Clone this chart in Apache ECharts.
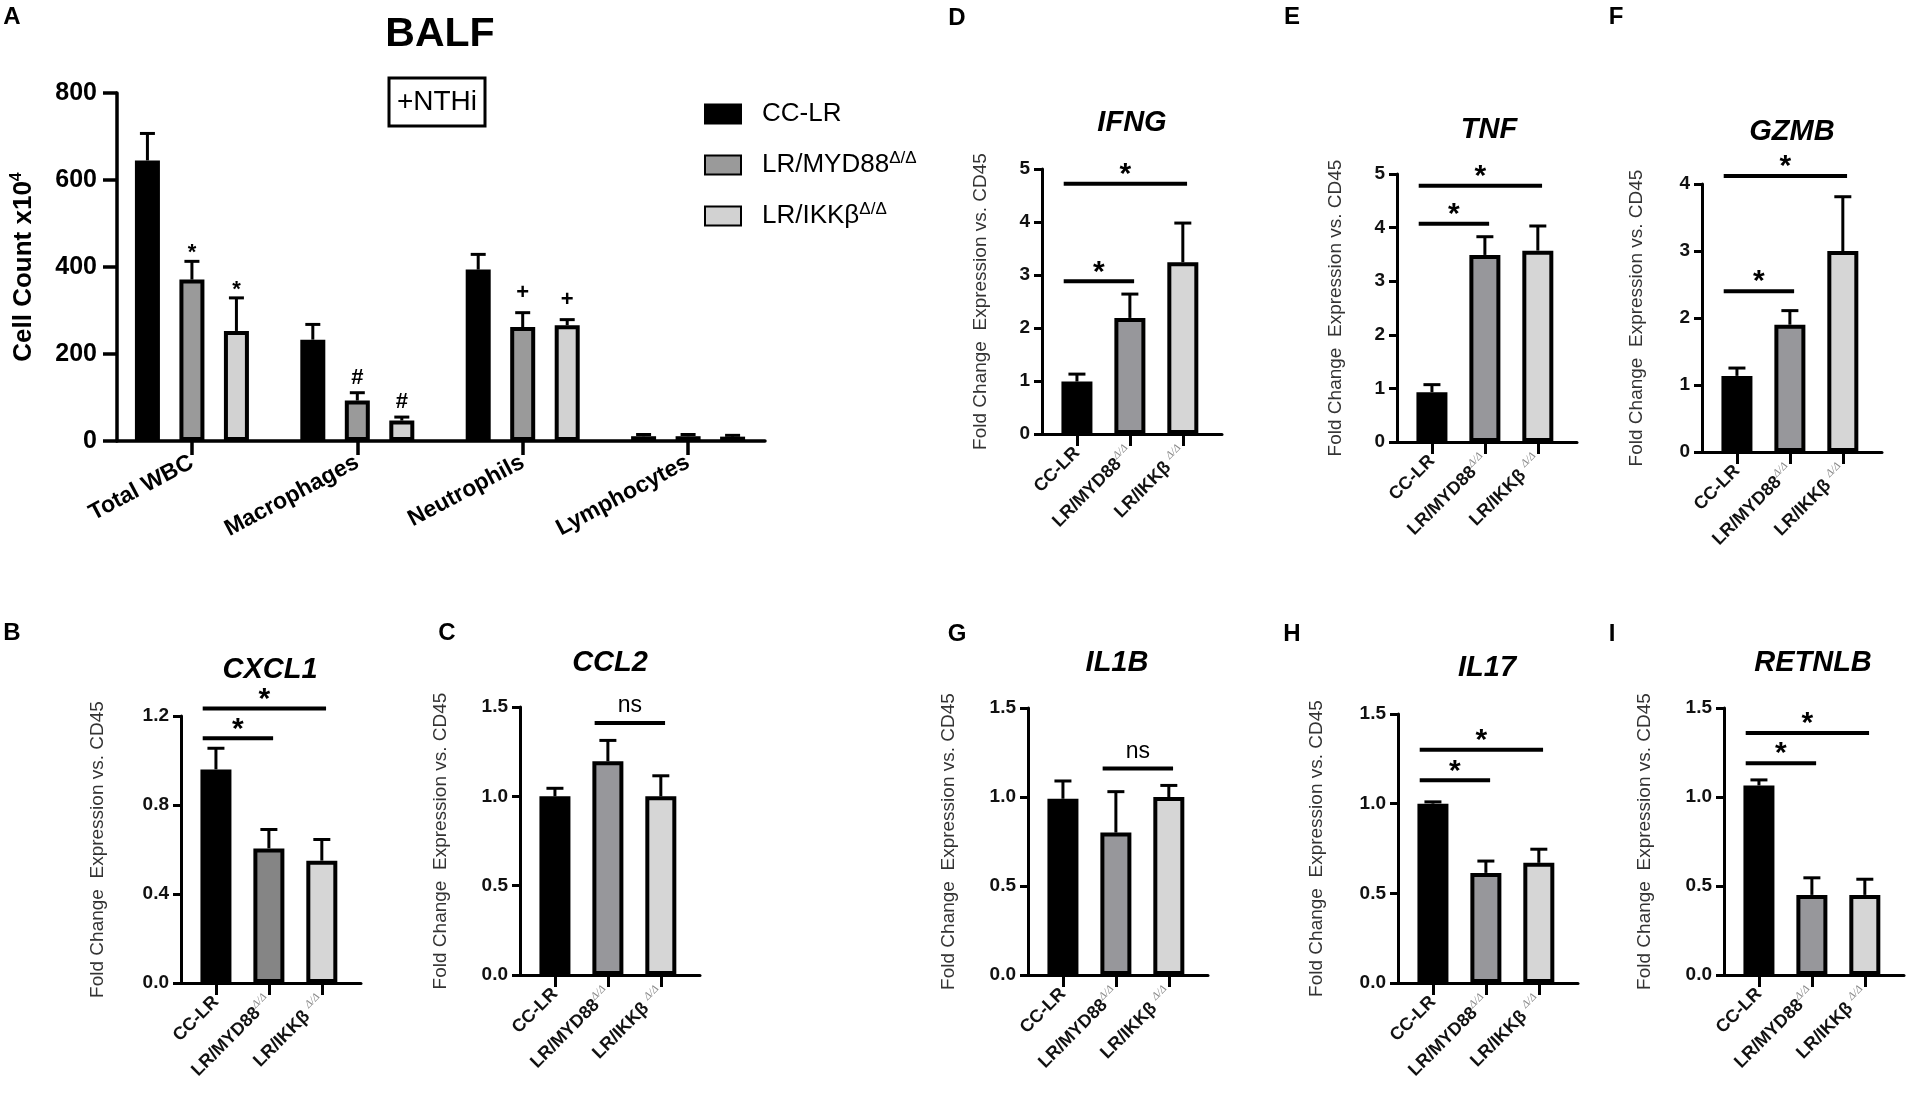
<!DOCTYPE html>
<html><head><meta charset="utf-8">
<script src="https://cdn.jsdelivr.net/npm/echarts@6/dist/echarts.min.js"></script>
<style>html,body{margin:0;padding:0;background:#fff}#c{width:1914px;height:1097px}</style>
</head><body><div id="c"></div>
<script>
// ================= DATA =================
const genotypes = ['CC-LR', 'LR/MYD88', 'LR/IKKβ'];
const genotypeSup = ['', 'Δ/Δ', 'Δ/Δ'];
const cellTypes = ['Total WBC', 'Macrophages', 'Neutrophils', 'Lymphocytes'];
const cellTicks = ['0', '200', '400', '600', '800'];

const balfCcLr = [645, 233, 394, 11];
const balfCcLrErr = [62, 35, 35, 4];
const balfMyd88 = [371, 93, 262, 11];
const balfMyd88Err = [42, 18, 33, 4];
const balfIkkb = [253, 47, 266, 10];
const balfIkkbErr = [76, 8, 13, 3];
const balfMarksMyd88 = ['*', '#', '+', ''];
const balfMarksIkkb = ['*', '#', '+', ''];

const ticks12 = ['0.0', '0.4', '0.8', '1.2'];
const ticks15 = ['0.0', '0.5', '1.0', '1.5'];
const ticks5 = ['0', '1', '2', '3', '4', '5'];
const ticks4 = ['0', '1', '2', '3', '4'];

const cxcl1Mean = [0.96, 0.605, 0.55];
const cxcl1Err = [0.095, 0.085, 0.095];
const cxcl1Sig = [[0, 1, 1.10, '*'], [0, 2, 1.234, '*']];

const ccl2Mean = [1.0, 1.196, 1.0];
const ccl2Err = [0.045, 0.117, 0.115];
const ccl2Sig = [[1, 2, 1.41, 'ns']];

const ifngMean = [0.99, 2.19, 3.24];
const ifngErr = [0.14, 0.45, 0.74];
const ifngSig = [[0, 1, 2.88, '*'], [0, 2, 4.72, '*']];

const tnfMean = [0.93, 3.49, 3.57];
const tnfErr = [0.14, 0.34, 0.46];
const tnfSig = [[0, 1, 4.07, '*'], [0, 2, 4.78, '*']];

const gzmbMean = [1.136, 1.90, 3.0];
const gzmbErr = [0.117, 0.21, 0.81];
const gzmbSig = [[0, 1, 2.40, '*'], [0, 2, 4.12, '*']];

const il1bMean = [0.99, 0.80, 1.0];
const il1bErr = [0.10, 0.23, 0.065];
const il1bSig = [[1, 2, 1.16, 'ns']];

const il17Mean = [1.0, 0.614, 0.67];
const il17Err = [0.01, 0.066, 0.076];
const il17Sig = [[0, 1, 1.13, '*'], [0, 2, 1.30, '*']];

const retnlbMean = [1.065, 0.45, 0.45];
const retnlbErr = [0.031, 0.096, 0.088];
const retnlbSig = [[0, 1, 1.19, '*'], [0, 2, 1.36, '*']];

// ================= LAYOUT / STYLE =================
const FONT = 'Liberation Sans, Arial, Helvetica, sans-serif';
const FILL_BLACK = '#000000', FILL_GREY = '#97979b', FILL_LIGHT = '#d6d6d6';

const genePanels = [
  {letter: 'B', gene: 'CXCL1', mean: cxcl1Mean, err: cxcl1Err, sig: cxcl1Sig, ticks: ticks12,
   left: 181, top: 716, h: 267, tx: 270, ty: 670, lx: 12, ly: 633, gap: 74, grey: '#858585'},
  {letter: 'C', gene: 'CCL2', mean: ccl2Mean, err: ccl2Err, sig: ccl2Sig, ticks: ticks15,
   left: 520, top: 707, h: 268, tx: 610, ty: 663, lx: 447, ly: 633, gap: 70},
  {letter: 'D', gene: 'IFNG', mean: ifngMean, err: ifngErr, sig: ifngSig, ticks: ticks5,
   left: 1042, top: 169, h: 265, tx: 1132, ty: 123, lx: 957, ly: 18, gap: 52},
  {letter: 'E', gene: 'TNF', mean: tnfMean, err: tnfErr, sig: tnfSig, ticks: ticks5,
   left: 1397, top: 174, h: 268, tx: 1489, ty: 130, lx: 1292, ly: 17, gap: 52},
  {letter: 'F', gene: 'GZMB', mean: gzmbMean, err: gzmbErr, sig: gzmbSig, ticks: ticks4,
   left: 1702, top: 184, h: 268, tx: 1792, ty: 132, lx: 1616, ly: 17, gap: 56},
  {letter: 'G', gene: 'IL1B', mean: il1bMean, err: il1bErr, sig: il1bSig, ticks: ticks15,
   left: 1028, top: 708, h: 267, tx: 1117, ty: 663, lx: 957, ly: 634, gap: 70},
  {letter: 'H', gene: 'IL17', mean: il17Mean, err: il17Err, sig: il17Sig, ticks: ticks15,
   left: 1398, top: 714, h: 269, tx: 1487, ty: 668, lx: 1292, ly: 634, gap: 72},
  {letter: 'I', gene: 'RETNLB', mean: retnlbMean, err: retnlbErr, sig: retnlbSig, ticks: ticks15,
   left: 1724, top: 708, h: 267, tx: 1813, ty: 663, lx: 1612, ly: 634, gap: 70}
];

const grids = [], xAxes = [], yAxes = [], series = [], graphics = [];

function errRender(offsetPx, capHalf, lw, marks, markFs) {
  return function (params, api) {
    const x = api.value(0), m = api.value(1), e = api.value(2);
    const a = api.coord([x, m]), b = api.coord([x, m + e]);
    const cx = a[0] + offsetPx;
    const children = [
      {type: 'line', shape: {x1: cx, y1: a[1], x2: cx, y2: b[1]}, style: {stroke: '#000', lineWidth: lw}},
      {type: 'line', shape: {x1: cx - capHalf, y1: b[1], x2: cx + capHalf, y2: b[1]}, style: {stroke: '#000', lineWidth: lw}}
    ];
    if (marks && marks[params.dataIndex]) {
      const mk = marks[params.dataIndex];
      const dy = mk === '*' ? 8 : (mk === '#' ? 15 : 20);
      children.push({type: 'text', x: cx, y: b[1] - dy,
        style: {text: mk, fontSize: markFs, fontWeight: 'bold', fontFamily: FONT, fill: '#000', align: 'center', verticalAlign: 'middle'}});
    }
    return {type: 'group', children: children};
  };
}

function sigRender(sig) {
  return function (params, api) {
    const s = sig[params.dataIndex];
    const p1 = api.coord([s[0] - 0.25, s[2]]), p2 = api.coord([s[1] + 0.08, s[2]]);
    const mid = (p1[0] + p2[0]) / 2;
    const star = s[3] === '*';
    return {type: 'group', children: [
      {type: 'line', shape: {x1: p1[0], y1: p1[1], x2: p2[0], y2: p2[1]}, style: {stroke: '#000', lineWidth: 4}},
      {type: 'text', x: mid, y: p1[1] - (star ? 9 : 17),
        style: {text: s[3], fontSize: star ? 30 : 23, fontWeight: star ? 'bold' : 'normal', fontFamily: FONT,
                fill: '#000', align: 'center', verticalAlign: 'middle'}}
    ]};
  };
}

// ---------- Panel A ----------
grids.push({left: 117, top: 93, width: 648, height: 348, containLabel: false, outerBoundsMode: 'none'});
xAxes.push({
  gridIndex: 0, type: 'value', min: -0.453, max: 3.465,
  axisLine: {show: true, onZero: false, lineStyle: {color: '#000', width: 3.5}},
  axisTick: {show: true, customValues: [0, 1, 2, 3], length: 14, lineStyle: {color: '#000', width: 3.5}},
  axisLabel: {customValues: [0, 1, 2, 3], rotate: 28, margin: 20, fontSize: 23, fontWeight: 'bold',
              color: '#000', fontFamily: FONT, formatter: v => cellTypes[Math.round(v)]},
  splitLine: {show: false}
});
yAxes.push({
  gridIndex: 0, type: 'value', min: 0, max: parseFloat(cellTicks[cellTicks.length - 1]),
  interval: parseFloat(cellTicks[1]),
  axisLine: {show: true, onZero: false, lineStyle: {color: '#000', width: 3.5}},
  axisTick: {show: true, length: 14, lineStyle: {color: '#000', width: 3.5}},
  axisLabel: {fontSize: 25, fontWeight: 'bold', color: '#000', fontFamily: FONT, margin: 20,
              formatter: v => cellTicks[Math.round(v / parseFloat(cellTicks[1]))]},
  splitLine: {show: false},
  name: '{a|Cell Count x10}{s|4}', nameLocation: 'middle', nameGap: 78,
  nameTextStyle: {rich: {
    a: {fontSize: 26, fontWeight: 'bold', color: '#000', fontFamily: FONT, lineHeight: 30},
    s: {fontSize: 16, fontWeight: 'bold', color: '#000', fontFamily: FONT, lineHeight: 16, verticalAlign: 'top'}
  }}
});
const balfNames = ['CC-LR', 'LR/MYD88Δ/Δ', 'LR/IKKβΔ/Δ'];
const balfVals = [balfCcLr, balfMyd88, balfIkkb];
const balfErrs = [balfCcLrErr, balfMyd88Err, balfIkkbErr];
const balfMarks = [null, balfMarksMyd88, balfMarksIkkb];
const balfFills = [FILL_BLACK, '#9a9a9a', '#d2d2d2'];
balfVals.forEach((vals, k) => {
  series.push({type: 'bar', name: balfNames[k], xAxisIndex: 0, yAxisIndex: 0, barWidth: 25, barGap: '78%',
    data: vals.map((v, i) => [i, v]), silent: true,
    itemStyle: {color: balfFills[k], borderColor: '#000', borderWidth: 4}});
});
balfVals.forEach((vals, k) => {
  series.push({type: 'custom', xAxisIndex: 0, yAxisIndex: 0, z: 5, clip: false, silent: true,
    data: vals.map((v, i) => [i, v, balfErrs[k][i]]),
    renderItem: errRender((k - 1) * 44.5, 7.5, 3, balfMarks[k], 22)});
});

// ---------- Gene panels ----------
function geneLabel(i) {
  const sup = genotypeSup[i];
  if (!sup) return '{b|' + genotypes[i] + '}';
  return '{b|' + genotypes[i] + (i === 2 ? ' ' : '') + '}{s|' + sup + '}';
}

genePanels.forEach((p) => {
  const gi = grids.length;
  grids.push({left: p.left, top: p.top, width: 180, height: p.h, containLabel: false, outerBoundsMode: 'none'});
  const interval = parseFloat(p.ticks[1]);
  xAxes.push({
    gridIndex: gi, type: 'value', min: -0.66, max: 2.74,
    axisLine: {show: true, onZero: false, lineStyle: {color: '#000', width: 3}},
    axisTick: {show: true, customValues: [0, 1, 2], length: 12, lineStyle: {color: '#000', width: 3}},
    axisLabel: {customValues: [0, 1, 2], rotate: 45, margin: 16, formatter: v => geneLabel(Math.round(v)),
      rich: {
        b: {fontSize: 18, fontWeight: 'bold', color: '#111', fontFamily: FONT, lineHeight: 22},
        s: {fontSize: 11, color: '#8a8a8a', fontFamily: 'Liberation Serif, serif', fontStyle: 'italic', lineHeight: 12, verticalAlign: 'top'}
      }},
    splitLine: {show: false}
  });
  yAxes.push({
    gridIndex: gi, type: 'value', min: 0, max: parseFloat(p.ticks[p.ticks.length - 1]), interval: interval,
    axisLine: {show: true, onZero: false, lineStyle: {color: '#000', width: 3}},
    axisTick: {show: true, length: 8, lineStyle: {color: '#000', width: 3}},
    axisLabel: {fontSize: 19, fontWeight: 'bold', color: '#111', fontFamily: FONT, margin: 12,
                formatter: v => p.ticks[Math.round(v / interval)]},
    splitLine: {show: false},
    name: 'Fold Change  Expression vs. CD45', nameLocation: 'middle', nameGap: p.gap,
    nameTextStyle: {fontSize: 19, color: '#333', fontFamily: FONT}
  });
  const fills = [FILL_BLACK, p.grey || FILL_GREY, FILL_LIGHT];
  series.push({type: 'bar', xAxisIndex: gi, yAxisIndex: gi, barWidth: 31, silent: true,
    data: p.mean.map((m, i) => ({value: [i, m], itemStyle: {color: fills[i]}})),
    itemStyle: {borderColor: '#000', borderWidth: 4}});
  series.push({type: 'custom', xAxisIndex: gi, yAxisIndex: gi, z: 5, clip: false, silent: true,
    data: p.mean.map((m, i) => [i, m, p.err[i]]),
    renderItem: errRender(0, 8.5, 3, null, 0)});
  series.push({type: 'custom', xAxisIndex: gi, yAxisIndex: gi, z: 5, clip: false, silent: true,
    data: p.sig.map(s => [s[0], s[2]]),
    renderItem: sigRender(p.sig)});
  graphics.push({type: 'text', x: p.tx, y: p.ty, style: {text: p.gene, fontSize: 29, fontWeight: 'bold', fontStyle: 'italic',
    fontFamily: FONT, fill: '#000', align: 'center', verticalAlign: 'middle'}});
  graphics.push({type: 'text', x: p.lx, y: p.ly, style: {text: p.letter, fontSize: 24, fontWeight: 'bold',
    fontFamily: FONT, fill: '#000', align: 'center', verticalAlign: 'middle'}});
});

// ---------- Free texts for panel A ----------
graphics.push({type: 'text', x: 12, y: 17, style: {text: 'A', fontSize: 24, fontWeight: 'bold', fontFamily: FONT, fill: '#000', align: 'center', verticalAlign: 'middle'}});
graphics.push({type: 'text', x: 440, y: 35, style: {text: 'BALF', fontSize: 41, fontWeight: 'bold', fontFamily: FONT, fill: '#000', align: 'center', verticalAlign: 'middle'}});
graphics.push({type: 'rect', shape: {x: 389, y: 78, width: 96, height: 48}, style: {fill: 'none', stroke: '#000', lineWidth: 3}});
graphics.push({type: 'text', x: 437, y: 102, style: {text: '+NTHi', fontSize: 28, fontFamily: FONT, fill: '#000', align: 'center', verticalAlign: 'middle'}});

const option = {
  animation: false,
  backgroundColor: '#ffffff',
  grid: grids, xAxis: xAxes, yAxis: yAxes, series: series,
  graphic: graphics,
  legend: {
    orient: 'vertical', left: 704, top: 101, itemWidth: 36, itemHeight: 19, itemGap: 23,
    icon: 'rect', selectedMode: false, data: balfNames, padding: 0,
    formatter: name => {
      if (name === 'CC-LR') return '{a|CC-LR}';
      const base = name.replace('Δ/Δ', '');
      return '{a|' + base + '}{s|Δ/Δ}';
    },
    textStyle: {padding: [0, 0, 0, 16], rich: {
      a: {fontSize: 26, color: '#000', fontFamily: FONT, lineHeight: 30},
      s: {fontSize: 17, color: '#000', fontFamily: FONT, lineHeight: 17, verticalAlign: 'top'}
    }}
  }
};
const chart = echarts.init(document.getElementById('c'));
chart.setOption(option);
</script></body></html>
